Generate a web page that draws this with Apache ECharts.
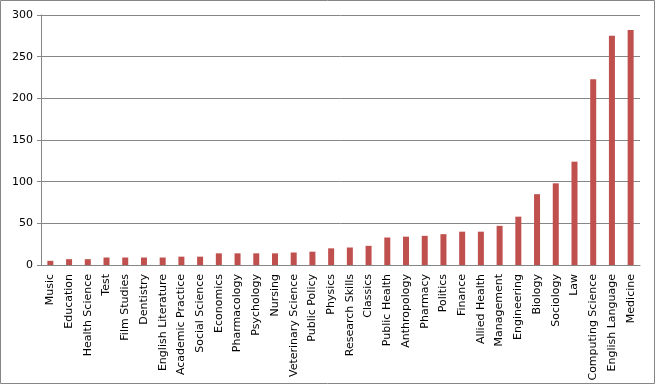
<!DOCTYPE html>
<html>
<head>
<meta charset="utf-8">
<script src="https://cdn.jsdelivr.net/npm/echarts@6/dist/echarts.min.js"></script>
<style>
html,body{margin:0;padding:0;background:#fff;}
#c{width:655px;height:384px;}
</style>
</head>
<body>
<div id="c"></div>
<script>
var categories = ["Music","Education","Health Science","Test","Film Studies","Dentistry","English Literature","Academic Practice","Social Science","Economics","Pharmacology","Psychology","Nursing","Veterinary Science","Public Policy","Physics","Research Skills","Classics","Public Health","Anthropology","Pharmacy","Politics","Finance","Allied Health","Management","Engineering","Biology","Sociology","Law","Computing Science","English Language","Medicine"];
var values = [5,7,7,9,9,9,9,10,10,14,14,14,14,15,16,20,21,23,33,34,35,37,40,40,47,58,85,98,124,223,275,282];
var yTicks = [0,50,100,150,200,250,300];

var chart = echarts.init(document.getElementById('c'), null, {renderer:'canvas'});
chart.setOption({
  animation:false,
  backgroundColor:'#ffffff',
  graphic:[{type:'rect',shape:{x:0.5,y:0.5,width:654,height:383},style:{fill:'none',stroke:'#868686',lineWidth:1},silent:true}],
  grid:{left:41,right:15,top:15,bottom:119,containLabel:false},
  xAxis:{
    type:'category',
    data:categories,
    axisLine:{lineStyle:{color:'#868686',width:1}},
    axisTick:{show:false},
    axisLabel:{rotate:90,interval:0,color:'#000',fontFamily:'DejaVu Sans',fontSize:11,margin:9}
  },
  yAxis:{
    type:'value',
    min:yTicks[0],max:yTicks[yTicks.length-1],interval:50,
    axisLine:{show:true,lineStyle:{color:'#868686',width:1}},
    axisTick:{show:true,length:4,lineStyle:{color:'#868686'}},
    axisLabel:{color:'#000',fontFamily:'DejaVu Sans',fontSize:11,margin:8},
    splitLine:{lineStyle:{color:'#868686',width:1}}
  },
  series:[{
    type:'bar',
    data:values,
    barWidth:6,
    itemStyle:{color:'#C0504D'}
  }]
});
</script>
</body>
</html>
